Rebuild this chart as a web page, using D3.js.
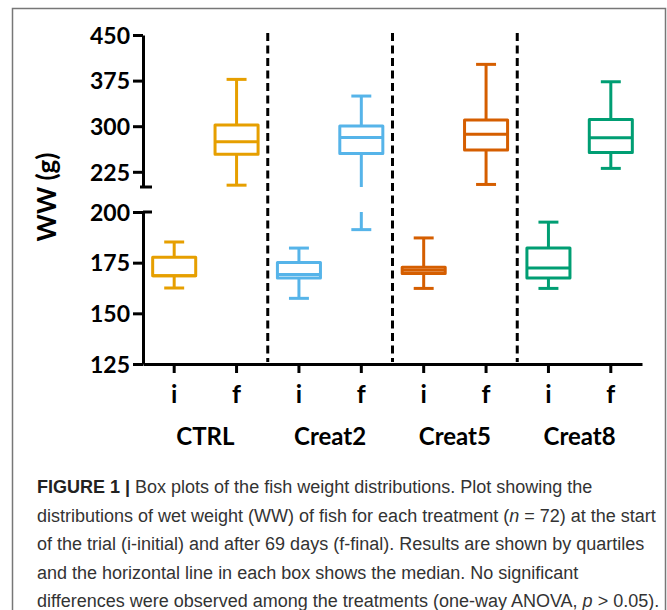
<!DOCTYPE html>
<html lang="en">
<head>
    <meta charset="UTF-8">
    <title>Fish weight box plots</title>
    <script src="https://d3js.org/d3.v7.min.js"></script>
    <style>
        body { margin: 0; background: #fff; }
        .axis-text { font-family: Lato, "Open Sans", sans-serif; font-weight: 700; fill: #000; }
        .caption { font-family: "Liberation Sans", Arial, sans-serif; fill: #333; }
    </style>
</head>
<body>
    <div id="chart"></div>
    <script>
        // treatments and sampling times
        const groups = ['CTRL', 'Creat2', 'Creat5', 'Creat8'];
        const times = ['i', 'f'];
        const colors = ['#E69F00', '#56B4E9', '#D55E00', '#009E73'];

        // box statistics, one entry per box: CTRL i, CTRL f, Creat2 i, ...
        const whiskerLow  = [162.5, 203.0, 157.4, 191.3, 162.3, 204.2, 162.3, 230.6];
        const quart1      = [168.6, 254.0, 167.4, 255.3, 169.6, 260.7, 167.4, 256.9];
        const medians     = [168.6, 274.5, 169.1, 281.6, 171.2, 286.6, 172.4, 281.0];
        const quart3      = [177.7, 302.0, 175.1, 300.2, 172.8, 310.1, 182.2, 311.2];
        const whiskerHigh = [185.2, 377.0, 182.2, 349.6, 187.2, 401.7, 195.0, 373.1];

        // y ticks for the two axis segments
        const upperTicks = [225, 300, 375, 450];
        const lowerTicks = [125, 150, 175, 200];

        const captionLines = [
            [['FIGURE 1 |', true], [' Box plots of the fish weight distributions. Plot showing the', false]],
            [['distributions of wet weight (WW) of fish for each treatment (', false], ['n', 'i'], [' = 72) at the start', false]],
            [['of the trial (i-initial) and after 69 days (f-final). Results are shown by quartiles', false]],
            [['and the horizontal line in each box shows the median. No significant', false]],
            [['differences were observed among the treatments (one-way ANOVA, ', false], ['p', 'i'], [' > 0.05).', false]]
        ];

        const width = 667, height = 610;
        const boxes = [];
        groups.forEach((g, gi) => times.forEach((t, ti) => {
            const k = gi * 2 + ti;
            boxes.push({
                key: g + '-' + t, group: g, time: t, color: colors[gi],
                lo: whiskerLow[k], q1: quart1[k], med: medians[k], q3: quart3[k], hi: whiskerHigh[k]
            });
        }));

        const svg = d3.select('#chart').append('svg')
            .attr('width', width)
            .attr('height', height);

        svg.append('rect').attr('width', width).attr('height', height).attr('fill', '#fff');

        // outer frame (open at the bottom)
        svg.append('path')
            .attr('d', 'M12.5,' + height + 'V8.5H665.5V' + height)
            .attr('fill', 'none')
            .attr('stroke', '#777')
            .attr('stroke-width', 1.5);

        const x = d3.scaleBand()
            .domain(boxes.map(d => d.key))
            .range([143, 642])
            .padding(0);

        const yUpper = d3.scaleLinear().domain([200, 450]).range([187, 35]);
        const yLower = d3.scaleLinear().domain([125, 200]).range([364, 212]);

        const defs = svg.append('defs');
        defs.append('clipPath').attr('id', 'clip-upper')
            .append('rect').attr('x', 140).attr('y', 20).attr('width', 510).attr('height', 167);
        defs.append('clipPath').attr('id', 'clip-lower')
            .append('rect').attr('x', 140).attr('y', 212).attr('width', 510).attr('height', 160);

        // dashed separators between treatments
        const sepX = groups.slice(1).map((g, i) => x(boxes[(i + 1) * 2].key));
        svg.selectAll('.sep').data(sepX).enter().append('line')
            .attr('class', 'sep')
            .attr('x1', d => d).attr('x2', d => d)
            .attr('y1', 33).attr('y2', 362)
            .attr('stroke', '#000')
            .attr('stroke-width', 3)
            .attr('stroke-dasharray', '8,4.5');

        const boxW = x.bandwidth() * 0.69;
        const capW = x.bandwidth() * 0.32;

        function drawBoxes(y, clipId) {
            const g = svg.append('g').attr('clip-path', 'url(#' + clipId + ')');
            const b = g.selectAll('.box').data(boxes).enter().append('g')
                .attr('transform', d => 'translate(' + (x(d.key) + x.bandwidth() / 2) + ',0)')
                .attr('stroke', d => d.color)
                .attr('stroke-width', 3)
                .attr('fill', 'none');
            b.append('line').attr('y1', d => y(d.hi)).attr('y2', d => y(d.q3));
            b.append('line').attr('y1', d => y(d.q1)).attr('y2', d => y(d.lo));
            b.append('line').attr('x1', -capW / 2).attr('x2', capW / 2)
                .attr('y1', d => y(d.hi)).attr('y2', d => y(d.hi));
            b.append('line').attr('x1', -capW / 2).attr('x2', capW / 2)
                .attr('y1', d => y(d.lo)).attr('y2', d => y(d.lo));
            b.append('rect')
                .attr('x', -boxW / 2).attr('width', boxW)
                .attr('y', d => y(d.q3)).attr('height', d => y(d.q1) - y(d.q3))
                .attr('stroke-linejoin', 'round')
                .attr('fill', '#fff');
            b.append('line').attr('x1', -boxW / 2).attr('x2', boxW / 2)
                .attr('y1', d => y(d.med)).attr('y2', d => y(d.med));
        }
        drawBoxes(yUpper, 'clip-upper');
        drawBoxes(yLower, 'clip-lower');

        // y axis, broken in two segments
        const axisUpper = svg.append('g').attr('transform', 'translate(143,0)')
            .call(d3.axisLeft(yUpper).tickValues(upperTicks).tickSize(10).tickSizeOuter(0));
        const axisLower = svg.append('g').attr('transform', 'translate(143,0)')
            .call(d3.axisLeft(yLower).tickValues(lowerTicks).tickSize(10).tickSizeOuter(0));
        [axisUpper, axisLower].forEach(a => {
            a.attr('font-family', null).attr('font-size', null);
            a.select('.domain').attr('stroke-width', 3);
            a.selectAll('.tick line').attr('stroke-width', 3);
            a.selectAll('.tick text')
                .attr('class', 'axis-text')
                .attr('x', -13)
                .attr('dy', '0.36em')
                .style('font-size', '23px');
        });
        // break caps at the ends of the segments
        svg.append('line')
            .attr('x1', 140).attr('x2', 152)
            .attr('y1', yUpper(200)).attr('y2', yUpper(200))
            .attr('stroke', '#000').attr('stroke-width', 3);
        svg.append('line')
            .attr('x1', 143).attr('x2', 152)
            .attr('y1', yLower(200)).attr('y2', yLower(200))
            .attr('stroke', '#000').attr('stroke-width', 3);

        // x axis
        const axisX = svg.append('g').attr('transform', 'translate(0,364)')
            .call(d3.axisBottom(x).tickSize(9).tickSizeOuter(0).tickFormat(k => k.split('-')[1]));
        axisX.attr('font-family', null).attr('font-size', null);
        axisX.select('.domain').attr('stroke-width', 3);
        axisX.selectAll('.tick line').attr('stroke-width', 3);
        axisX.selectAll('.tick text')
            .attr('class', 'axis-text')
            .attr('y', 39)
            .attr('dy', null)
            .style('font-size', '25px');

        // treatment names
        svg.selectAll('.group-label').data(groups).enter().append('text')
            .attr('class', 'axis-text group-label')
            .attr('x', (g, i) => (x(boxes[i * 2].key) + x(boxes[i * 2 + 1].key) + x.bandwidth()) / 2)
            .attr('y', 445)
            .attr('text-anchor', 'middle')
            .style('font-size', '24px')
            .text(g => g);

        // y title
        svg.append('text')
            .attr('class', 'axis-text')
            .attr('transform', 'translate(56,197) rotate(-90)')
            .attr('text-anchor', 'middle')
            .style('font-size', '26px')
            .text('WW (g)');

        // caption
        const cap = svg.append('text')
            .attr('class', 'caption')
            .style('font-size', '18px');
        captionLines.forEach((line, li) => {
            line.forEach((part, pi) => {
                const ts = cap.append('tspan').text(part[0]);
                if (pi === 0) ts.attr('x', 37).attr('y', 493 + li * 28.5);
                if (part[1] === true) ts.style('font-weight', 700).style('fill', '#222');
                if (part[1] === 'i') ts.style('font-style', 'italic');
            });
        });
    </script>
</body>
</html>
